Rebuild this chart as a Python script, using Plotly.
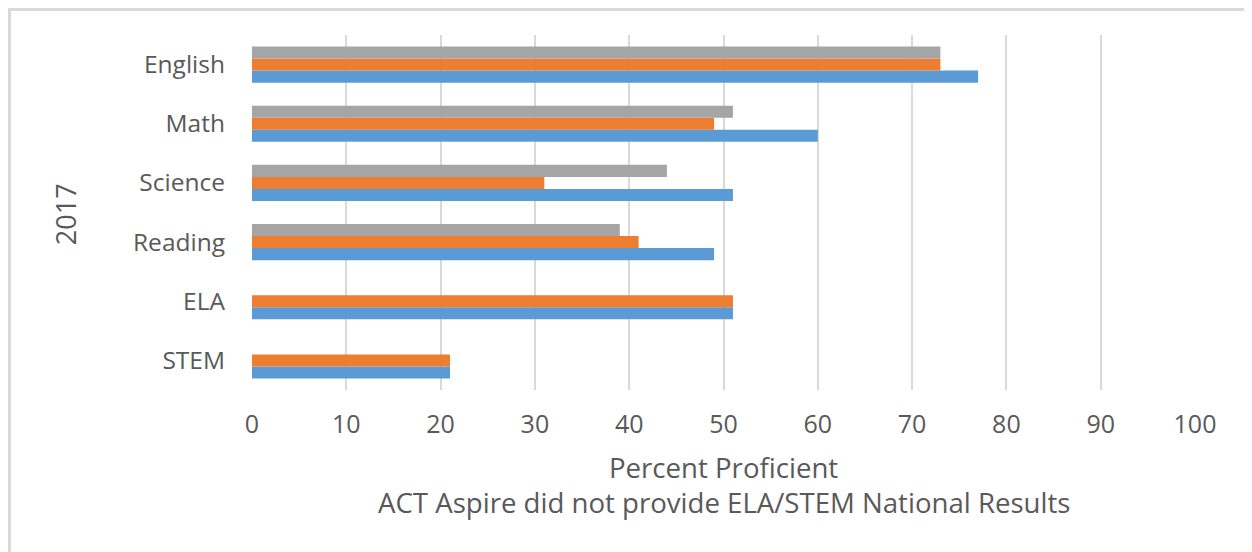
import plotly.graph_objects as go

# subjects, top to bottom as shown
subjects = ["English", "Math", "Science", "Reading", "ELA", "STEM"]

# three series (no legend shown in the original)
blue_vals = [77, 60, 51, 49, 51, 21]
orange_vals = [73, 49, 31, 41, 51, 21]
gray_vals = [73, 51, 44, 39, None, None]

x_ticks = list(range(0, 101, 10))

text_color = "#595959"
grid_color = "#D9D9D9"
font_name = "Open Sans"

fig = go.Figure()

# first trace sits at the bottom of each group
for vals, color in [(blue_vals, "#5B9BD5"),
                    (orange_vals, "#ED7D31"),
                    (gray_vals, "#A5A5A5")]:
    fig.add_trace(go.Bar(
        y=subjects,
        x=vals,
        orientation="h",
        marker=dict(color=color, line=dict(width=0)),
        hoverinfo="x+y",
    ))

# the page body has an 8px margin, so the figure is 8px smaller
fig.update_layout(
    width=1244,
    height=544,
    margin=dict(l=244, r=57, t=27, b=162),
    paper_bgcolor="white",
    plot_bgcolor="white",
    barmode="group",
    bargap=0.39,
    bargroupgap=0,
    showlegend=False,
    font=dict(family=font_name, color=text_color, size=26),
)

fig.update_xaxes(
    range=[0, 100],
    tickvals=x_ticks,
    showgrid=True,
    gridcolor=grid_color,
    gridwidth=2,
    zeroline=False,
    showline=False,
    ticks="",
    ticklabelstandoff=17,
    tickfont=dict(size=25, color=text_color),
)

fig.update_yaxes(
    categoryorder="array",
    categoryarray=subjects[::-1],
    showgrid=False,
    zeroline=False,
    showline=False,
    ticks="",
    ticklabelstandoff=26,
    tickfont=dict(size=24.5, color=text_color),
)

# x axis title lines
fig.add_annotation(text="Percent Proficient", xref="paper", yref="paper",
                   x=0.5, y=-0.217, xanchor="center", yanchor="middle",
                   showarrow=False, font=dict(size=27.6, color=text_color))
fig.add_annotation(text="ACT Aspire did not provide ELA/STEM National Results",
                   xref="paper", yref="paper", x=0.5, y=-0.3155,
                   xanchor="center", yanchor="middle",
                   showarrow=False, font=dict(size=27.6, color=text_color))

# y axis title
fig.add_annotation(text="2017", xref="paper", yref="paper",
                   x=-0.197, y=0.496, xanchor="center", yanchor="middle",
                   textangle=-90, showarrow=False,
                   font=dict(size=27, color=text_color))

# outer chart border (bottom edge is cropped in the original)
fig.add_shape(type="rect", xref="paper", yref="paper",
              x0=-0.2572, x1=1.0589, y0=-0.5, y1=1.0718,
              line=dict(color=grid_color, width=3), layer="below")

fig.write_html("out.html")
